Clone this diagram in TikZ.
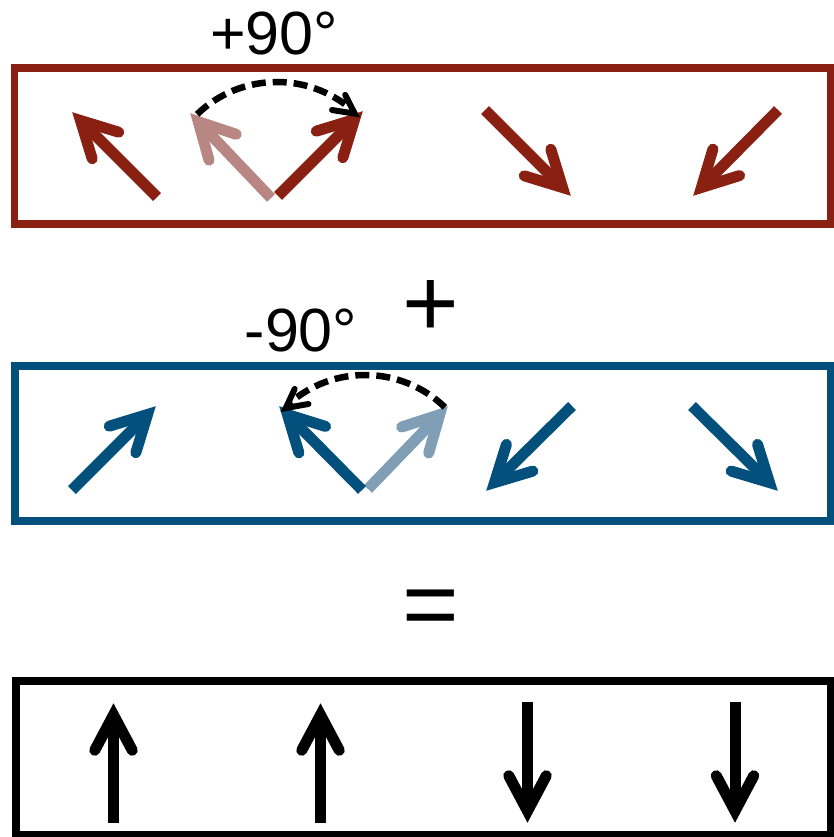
\documentclass[tikz,border=0pt]{standalone}
\usepackage{fontspec}
\setmainfont{Liberation Sans}
\usetikzlibrary{calc}
\definecolor{dred}{RGB}{138,32,18}
\definecolor{lred}{RGB}{184,134,131}
\definecolor{dblue}{RGB}{3,80,124}
\definecolor{lblue}{RGB}{128,158,181}
\newcommand{\spinarr}[3]{%
  \coordinate (sa-p) at ($(#3)!12pt!(#2)$);
  \draw[#1, line width=11pt, line cap=butt] (#2) -- (sa-p);
  \draw[#1, line width=11pt, line cap=round, line join=miter]
    ($(sa-p)!40pt!28:(#2)$) -- (sa-p) -- ($(sa-p)!40pt!-28:(#2)$);
}
\tikzset{
  panel/.style={line width=8pt},
  rot/.style={black, line width=6.5pt, dash pattern=on 14pt off 7pt},
  rothead/.style={black, line width=6pt, line cap=round, line join=miter},
  bigsym/.style={anchor=base, inner sep=0pt, font=\fontsize{97}{110}\selectfont},
  anglelabel/.style={anchor=base, inner sep=0pt, font=\fontsize{61}{72}\selectfont}
}
\begin{document}
\begin{tikzpicture}[x=1pt,y=-1pt]
\useasboundingbox (0,0) rectangle (833,837);
% panels
\draw[panel, dred, line width=7.5pt] (14.5,68) rectangle (830.5,224);
\draw[panel, dblue] (15.3,366) rectangle (831,521);
\draw[panel, black] (15.5,680.5) rectangle (831.3,835);
% labels
\node[anglelabel] (plabel) at (274,55) {+90°};
\node[anglelabel] (mlabel) at (301,351) {-90°};
\node[bigsym] (plus) at (431,336) {+};
\node[bigsym] (eq) at (431,637) {=};
% red row
\spinarr{dred}{157,197}{72,112}
\spinarr{lred}{271,198}{190,113}
\spinarr{dred}{278,196}{363,111}
\spinarr{dred}{485,110}{571,196}
\spinarr{dred}{778,110}{693,196}
% blue row
\spinarr{dblue}{72,490}{156,406}
\spinarr{lblue}{368,489}{448,406}
\spinarr{dblue}{362,490}{279,406}
\spinarr{dblue}{572,406}{486,491}
\spinarr{dblue}{692,406}{778,491}
% black row
\spinarr{black}{113.5,823}{113.5,703}
\spinarr{black}{320.5,823}{320.5,703}
\spinarr{black}{527.5,702}{527.5,823}
\spinarr{black}{735,702}{735,823}
% rotations
\coordinate (rc) at (277,197);
\coordinate (bc) at (365,490);
\coordinate (rend) at ($(rc)+(313:114)$);
\coordinate (bend) at ($(bc)+(226:114)$);
\draw[rot] ($(rc)+(226:115)$) arc[start angle=226, end angle=311, radius=115];
\draw[rothead] ($(rend)+(243:21)$) -- (rend) -- ($(rend)+(189:23)$);
\draw[rot] ($(bc)+(314:115)$) arc[start angle=314, end angle=228, radius=115];
\draw[rothead] ($(bend)+(295:21)$) -- (bend) -- ($(bend)+(350:23)$);
\end{tikzpicture}
\end{document}
